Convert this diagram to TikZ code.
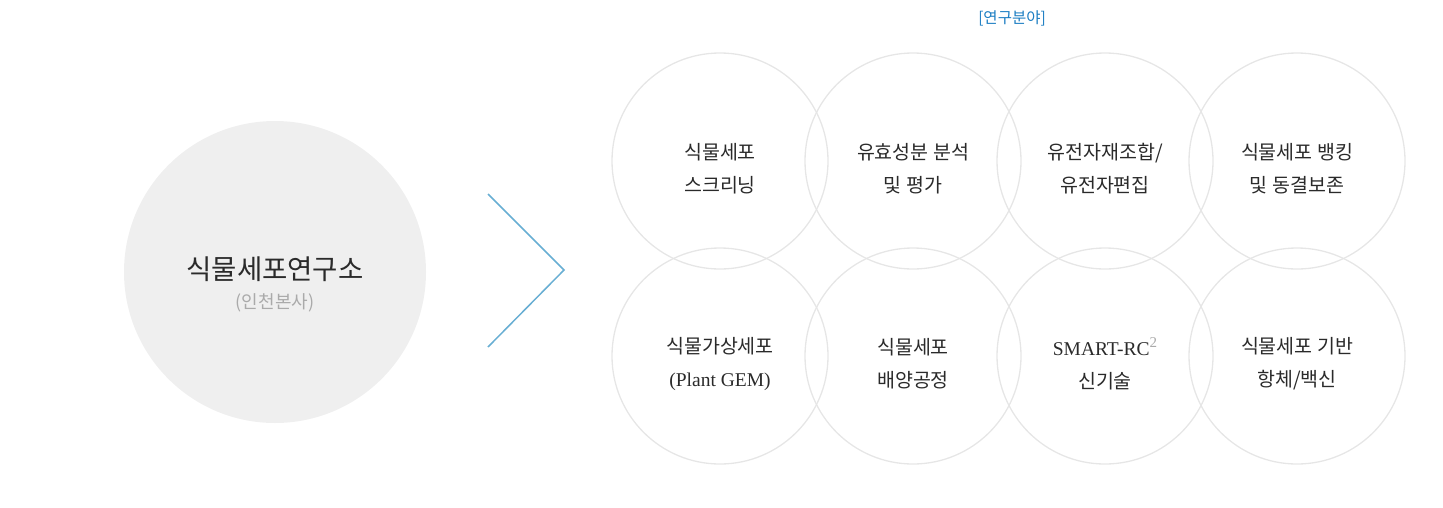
\documentclass[tikz,border=0pt]{standalone}
\usepackage{fontspec}
\setmainfont{Liberation Serif}
\newfontfamily\kr{Noto Sans CJK KR}
\newfontfamily\lat{Liberation Serif}
\definecolor{ringgray}{HTML}{E6E6E6}
\definecolor{hubfill}{HTML}{EFEFEF}
\definecolor{chev}{HTML}{68AED3}
\definecolor{headblue}{HTML}{1B7DC2}
\definecolor{txt}{HTML}{2A2A2A}
\definecolor{subgray}{HTML}{AAAAAA}
\begin{document}
\begin{tikzpicture}[x=1pt,y=-1pt,
  field/.style={circle,draw=ringgray,line width=1.3pt,minimum size=216pt,inner sep=0pt},
  fieldtext/.style={align=center,text=txt,font=\kr\fontsize{19.5}{33}\selectfont},
  hub/.style={circle,fill=hubfill,minimum size=302pt,inner sep=0pt}]
\useasboundingbox (0,0) rectangle (1443,507);
\node[hub] (hub) at (275,272) {};
\node[text=txt,font=\kr\fontsize{27.5}{30}\selectfont] (hubtitle) at (275,269) {식물세포연구소};
\node[text=subgray,font=\kr\fontsize{18}{20}\selectfont] (hubsub) at (275,303) {(인천본사)};
\node[text=headblue,font=\kr\fontsize{15.5}{18}\selectfont] (head) at (1012,18) {[연구분야]};
\coordinate (c1) at (488,194);
\coordinate (c2) at (564,270);
\coordinate (c3) at (488,347);
\draw[chev,line width=1.5pt,line join=miter] (c1) -- (c2) -- (c3);
\node[field] (f1) at (720,161) {};
\node[field] (f2) at (913,161) {};
\node[field] (f3) at (1105,161) {};
\node[field] (f4) at (1297,161) {};
\node[field] (f5) at (720,356) {};
\node[field] (f6) at (913,356) {};
\node[field] (f7) at (1105,356) {};
\node[field] (f8) at (1297,356) {};
\node[fieldtext] (t1) at (720,169) {식물세포\\스크리닝};
\node[fieldtext] (t2) at (913,169) {유효성분 분석\\및 평가};
\node[fieldtext] (t3) at (1105,169) {유전자재조합/\\유전자편집};
\node[fieldtext] (t4) at (1297,169) {식물세포 뱅킹\\및 동결보존};
\node[fieldtext] (t5) at (720,364) {식물가상세포\\{\lat (Plant GEM)}};
\node[fieldtext] (t6) at (913,364) {식물세포\\배양공정};
\node[fieldtext] (t7) at (1105,364) {{\lat SMART-RC}\raisebox{0.42em}{\textcolor{subgray}{\lat\fontsize{15}{15}\selectfont 2}}\\신기술};
\node[fieldtext] (t8) at (1297,364) {식물세포 기반\\항체/백신};
\end{tikzpicture}
\end{document}
